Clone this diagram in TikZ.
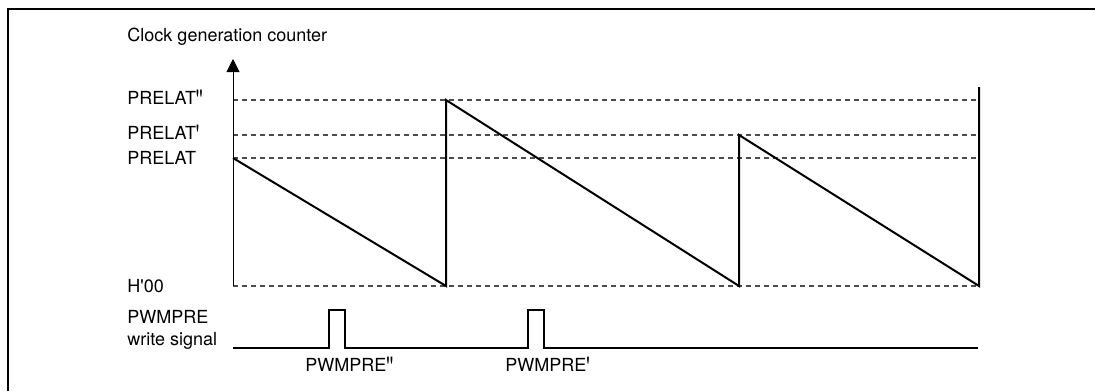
\documentclass[tikz,border=0pt]{standalone}
\usepackage{fontspec}
\setmainfont{TeX Gyre Heros}
\usepackage{graphicx}
\usepackage{tikz}
\usetikzlibrary{arrows.meta}
\newcommand{\tck}{\raisebox{-0.29em}{\scalebox{1}[1.6]{\textquotesingle}}}

\begin{document}
\begin{tikzpicture}[x=0.5pt, y=-0.5pt, font=\fontsize{9}{11}\selectfont,
  lbl/.style={anchor=west, inner sep=0pt, align=left},
  guide/.style={dash pattern=on 2.5pt off 2pt, line width=0.55pt, gray!60!black},
  wave/.style={line width=1pt, line join=miter},
  axis/.style={-{Triangle[length=6.5pt, width=6.5pt]}, line width=0.5pt}]
\useasboundingbox (0,0) rectangle (1095,391);

% ---- frame -------------------------------------------------------------
\draw[line width=1pt] (8,391) -- (8,9) -- (1095,9);

% ---- counter axis + levels ---------------------------------------------
\node[lbl] (title) at (127,37) {Clock generation counter};
\foreach \y/\name/\txt in {100/pdd/PRELAT\tck\tck, 135/pd/PRELAT\tck,
                           158/p/PRELAT, 286/zero/H\textquotesingle 00}
  {\node[lbl] (\name) at (127,\y) {\txt};
   \draw[guide] (233,\y) -- (976,\y);}
\draw[axis] (233,286) -- (233,59);

% ---- sawtooth ----------------------------------------------------------
\draw[wave] (233,158) -- (446,286) -- (446,100) -- (739,286)
  -- (739,135) -- (979,286) -- (979,87);

% ---- write signal ------------------------------------------------------
\node[lbl] (sig) at (127,330) {PWMPRE\\write signal};
\draw[wave] (233,348) -- (329,348) -- (329,310) -- (345,310) -- (345,348)
  -- (528,348) -- (528,310) -- (544,310) -- (544,348) -- (978,348);
\node[lbl] (wdd) at (305,367) {PWMPRE\tck\tck};
\node[lbl] (wd) at (505,367) {PWMPRE\tck};
\end{tikzpicture}
\end{document}
